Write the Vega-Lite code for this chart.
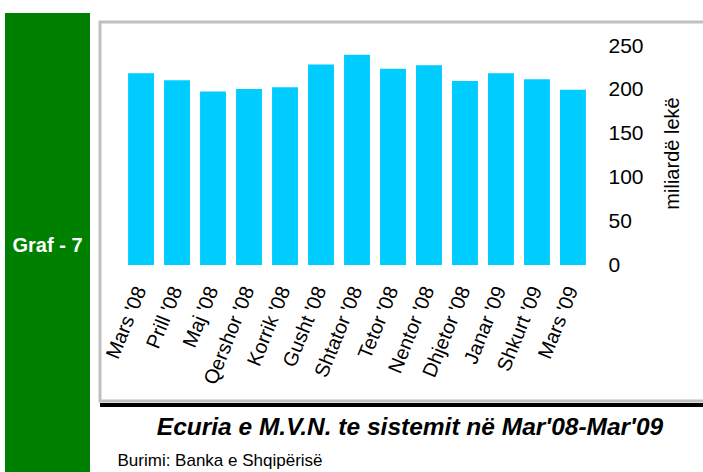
{
  "$schema": "https://vega.github.io/schema/vega-lite/v6.json",
  "padding": {"left": 5, "top": 10, "right": 0, "bottom": 0},
  "background": "white",
  "config": {"font": "Liberation Sans"},
  "spacing": 10,
  "bounds": "flush",
  "hconcat": [
    {
      "width": 85,
      "height": 466,
      "view": {"fill": "#008000", "stroke": null},
      "data": {"values": [{"label": "Graf - 7"}]},
      "mark": {"type": "text", "color": "white", "fontWeight": "bold", "fontSize": 20, "font": "Liberation Sans"},
      "encoding": {"text": {"field": "label", "type": "nominal"}}
    },
    {
      "spacing": 2,
      "bounds": "flush",
      "title": {"text": "Burimi: Banka e Shqipërisë", "orient": "bottom", "anchor": "start", "fontSize": 17, "fontWeight": "normal", "offset": 13, "dx": 19, "color": "black", "font": "Liberation Sans"},
      "vconcat": [
        {
          "width": 610,
          "height": 7,
          "view": {"stroke": null, "fill": null},
          "data": {"values": [{"t": ""}]},
          "mark": {"type": "text"},
          "encoding": {"text": {"field": "t", "type": "nominal"}}
        },
        {
          "width": 610,
          "height": 379,
          "view": {"stroke": "#c0c0c0", "strokeWidth": 3, "fill": "white"},
          "data": {"values": [
            {"month": "Mars '08", "value": 219},
            {"month": "Prill '08", "value": 211},
            {"month": "Maj '08", "value": 198},
            {"month": "Qershor '08", "value": 201},
            {"month": "Korrik '08", "value": 203},
            {"month": "Gusht '08", "value": 229},
            {"month": "Shtator '08", "value": 240},
            {"month": "Tetor '08", "value": 224},
            {"month": "Nentor '08", "value": 228},
            {"month": "Dhjetor '08", "value": 210},
            {"month": "Janar '09", "value": 219},
            {"month": "Shkurt '09", "value": 212},
            {"month": "Mars '09", "value": 200}
          ]},
          "mark": {"type": "bar", "color": "#00ccff"},
          "encoding": {
            "x": {
              "field": "month", "type": "nominal", "sort": null,
              "scale": {"range": [18, 496], "paddingInner": 0.28, "paddingOuter": 0.28},
              "axis": {"title": null, "orient": "bottom", "offset": -118, "labelAngle": -68, "labelFontSize": 20, "labelColor": "black", "domain": false, "ticks": false, "tickSize": 0, "labelPadding": 4, "labelOverlap": false, "labelLimit": 0, "labelAlign": "right", "labelBaseline": "middle", "grid": false}
            },
            "y": {
              "field": "value", "type": "quantitative",
              "scale": {"domain": [-155.2, 277.4], "nice": false, "zero": false},
              "axis": {"orient": "right", "zindex": 1, "values": [0, 50, 100, 150, 200, 250], "offset": -102, "domain": false, "ticks": false, "tickSize": 0, "labelPadding": 0, "labelAlign": "left", "labelBaseline": "middle", "labelFontSize": 21, "labelColor": "black", "grid": false, "title": "miliardë lekë", "titleFontSize": 20, "titleFontWeight": "normal", "titleColor": "black", "titleAngle": 270, "titleAlign": "center", "titleBaseline": "middle", "titleX": 64, "titleY": 131}
            },
            "y2": {"datum": 0}
          }
        },
        {
          "width": 628,
          "height": 4,
          "view": {"stroke": null, "fill": "black"},
          "title": {"text": "Ecuria e M.V.N. te sistemit në Mar'08-Mar'09", "orient": "bottom", "anchor": "middle", "fontSize": 24.5, "fontWeight": "bold", "fontStyle": "italic", "offset": 9, "dx": -4, "color": "black", "font": "Liberation Sans"},
          "data": {"values": [{"line": "separator"}]},
          "mark": {"type": "rect", "color": "black"},
          "encoding": {}
        }
      ]
    }
  ]
}
